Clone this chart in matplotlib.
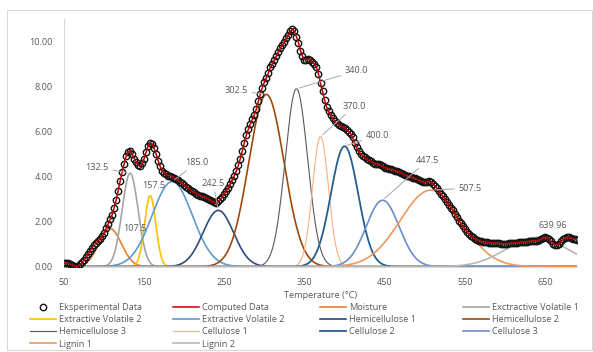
import numpy as np
import matplotlib
matplotlib.use("Agg")
import matplotlib.pyplot as plt
from matplotlib.patches import Rectangle

plt.rcParams["font.family"] = ["Open Sans", "DejaVu Sans"]

# experimental DTG data, every 2.5 degC from 50 to 690 (one row = 25 degC)
temp = np.arange(50, 690.1, 2.5)
exp_vals = [
    0.15, 0.16, 0.15, 0.12, 0.08, 0.03, 0.00, 0.03, 0.10, 0.20,   # 50
    0.30, 0.42, 0.55, 0.70, 0.85, 0.97, 1.05, 1.15, 1.25, 1.35,   # 75
    1.50, 1.70, 1.90, 2.10, 2.30, 2.60, 2.95, 3.35, 3.80, 4.20,   # 100
    4.55, 4.90, 5.10, 5.15, 5.00, 4.80, 4.65, 4.50, 4.45, 4.60,   # 125
    4.80, 5.10, 5.35, 5.50, 5.45, 5.25, 5.00, 4.70, 4.45, 4.25,   # 150
    4.15, 4.10, 4.05, 4.05, 4.00, 3.95, 3.90, 3.85, 3.78, 3.70,   # 175
    3.62, 3.55, 3.48, 3.42, 3.35, 3.30, 3.25, 3.20, 3.15, 3.12,   # 200
    3.10, 3.05, 3.00, 2.95, 2.90, 2.86, 2.85, 2.90, 3.00, 3.10,   # 225
    3.25, 3.38, 3.50, 3.68, 3.85, 4.05, 4.25, 4.50, 4.80, 5.15,   # 250
    5.50, 5.85, 6.10, 6.35, 6.55, 6.75, 7.00, 7.35, 7.65, 7.95,   # 275
    8.20, 8.40, 8.60, 8.85, 9.00, 9.20, 9.35, 9.55, 9.70, 9.85,   # 300
    10.00, 10.15, 10.30, 10.45, 10.55, 10.45, 10.20, 9.95, 9.60, 9.35,  # 325
    9.20, 9.20, 9.22, 9.20, 9.10, 9.00, 8.85, 8.55, 8.15, 7.80,   # 350
    7.40, 7.10, 6.90, 6.72, 6.60, 6.48, 6.38, 6.30, 6.25, 6.20,   # 375
    6.15, 6.08, 6.00, 5.90, 5.75, 5.50, 5.30, 5.12, 5.00, 4.92,   # 400
    4.85, 4.78, 4.72, 4.68, 4.62, 4.58, 4.55, 4.55, 4.50, 4.45,   # 425
    4.40, 4.38, 4.35, 4.32, 4.30, 4.27, 4.25, 4.22, 4.18, 4.12,   # 450
    4.08, 4.05, 4.02, 3.98, 3.95, 3.92, 3.88, 3.84, 3.80, 3.76,   # 475
    3.74, 3.78, 3.80, 3.75, 3.68, 3.60, 3.50, 3.38, 3.25, 3.12,   # 500
    3.00, 2.88, 2.75, 2.62, 2.50, 2.35, 2.20, 2.05, 1.92, 1.80,   # 525
    1.68, 1.55, 1.45, 1.36, 1.30, 1.24, 1.20, 1.16, 1.13, 1.10,   # 550
    1.10, 1.08, 1.07, 1.06, 1.05, 1.05, 1.04, 1.04, 1.03, 1.03,   # 575
    1.02, 1.03, 1.04, 1.05, 1.05, 1.06, 1.07, 1.08, 1.08, 1.09,   # 600
    1.10, 1.11, 1.12, 1.13, 1.14, 1.15, 1.16, 1.18, 1.22, 1.28,   # 625
    1.30, 1.28, 1.22, 1.12, 1.02, 0.98, 0.97, 1.02, 1.12, 1.22,   # 650
    1.28, 1.30, 1.30, 1.27, 1.25, 1.22, 1.20,                     # 675
]
computed_vals = list(exp_vals)

# deconvoluted peaks: name, centre, height, width (sigma)
names = ["Moisture", "Exctractive Volatile 1", "Extractive Volatile 2",
         "Extractive Volatile 2", "Hemicellulose 1", "Hemicellulose 2",
         "Hemicellulose 3", "Cellulose 1", "Cellulose 2", "Cellulose 3",
         "Lignin 1", "Lignin 2"]
centers = [107.5, 132.5, 157.5, 185.0, 242.5, 302.5, 340.0, 370.0, 400.0,
           447.5, 507.5, 639.96]
heights = [1.70, 4.15, 3.15, 3.78, 2.50, 7.65, 7.90, 5.78, 5.35, 2.95, 3.40, 1.30]
sigmas = [14, 10, 7, 25, 19, 22, 14, 10, 17, 20.5, 38, 38]
peak_labels = ["107.5", "132.5", "157.5", "185.0", "242.5", "302.5", "340.0",
               "370.0", "400.0", "447.5", "507.5", "639.96"]

colors = ["#ED7D31", "#A5A5A5", "#FFC000", "#5B9BD5", "#2F4B7C", "#9E480E",
          "#595959", "#F4B183", "#255E91", "#698ED0", "#F1975A", "#B7B7B7"]
widths = [1.2, 1.2, 1.2, 1.2, 1.2, 1.2, 0.8, 0.8, 1.3, 1.2, 1.2, 1.2]
# label offsets from peak (pixels, +y up) and whether a leader line is drawn
offsets = [(25, 0), (-33, 6), (4, 10), (25, 19), (-5, 27), (-30, 4),
           (60, 18), (34, 30), (33, 11), (45, 40), (39, 2), (16, 12)]
leader = [False, True, False, True, True, True, True, True, True, True, True, False]

W, H = 593, 352
fig = plt.figure(figsize=(W / 100, H / 100), dpi=100)
fig.patches.append(Rectangle((7 / W, 1 - 350 / H), 585 / W, 340 / H,
                             transform=fig.transFigure, fill=False,
                             ec="#D9D9D9", lw=0.8))
ax = fig.add_axes([64 / W, 1 - 266.7 / H, 513 / W, 247.7 / H])

grey = "#595959"
tt = np.arange(50, 690.5, 0.5)
handles = []
h_exp, = ax.plot(temp, exp_vals, ls="none", marker="o", ms=4.6, mfc="none",
                 mec="#141414", mew=1.0, zorder=3, label="Eksperimental Data")
h_comp, = ax.plot(temp, computed_vals, color="#C00000", lw=1.1, zorder=4,
                  label="Computed Data")
handles += [h_exp, h_comp]
for i in range(len(names)):
    y = heights[i] * np.exp(-0.5 * ((tt - centers[i]) / sigmas[i]) ** 2)
    h, = ax.plot(tt, y, color=colors[i], lw=widths[i], zorder=2, label=names[i])
    handles.append(h)
    dx, dy = offsets[i]
    ap = dict(arrowstyle="-", color="#A6A6A6", lw=0.7, shrinkA=1, shrinkB=2) \
        if leader[i] else None
    ax.annotate(peak_labels[i], xy=(centers[i], heights[i]),
                xytext=(dx * 0.72, dy * 0.72), textcoords="offset points",
                ha="center", va="center", fontsize=6.6, color=grey,
                arrowprops=ap, zorder=5)

ax.set_xlim(50, 690)
ax.set_ylim(0, 11)
ax.set_xticks(np.arange(50, 651, 100))
ax.set_yticks(np.arange(0, 10.1, 2))
ax.yaxis.set_major_formatter(matplotlib.ticker.FormatStrFormatter("%.2f"))
ax.tick_params(length=0, labelsize=6.6, labelcolor=grey, pad=8)
for s in ["top", "right"]:
    ax.spines[s].set_visible(False)
for s in ["left", "bottom"]:
    ax.spines[s].set_color("#D9D9D9")
    ax.spines[s].set_linewidth(0.8)
ax.set_xlabel("Temperature (°C)", fontsize=6.6, color=grey, labelpad=3)

# Excel fills the legend row by row: one legend per column, placed by hand
legend_cols = [[0, 4, 8, 12], [1, 5, 9, 13], [2, 6, 10], [3, 7, 11]]
col_x = [30, 173, 320, 463]
for idx, x0 in zip(legend_cols, col_x):
    leg = fig.legend([handles[k] for k in idx],
                     [handles[k].get_label() for k in idx],
                     loc="upper left", bbox_to_anchor=(x0 / W, 1 - 303 / H),
                     frameon=False, fontsize=6.6, handlelength=2.8,
                     handletextpad=0.35, labelspacing=0.35,
                     borderpad=0, borderaxespad=0)
    for t in leg.get_texts():
        t.set_color(grey)

fig.savefig("out.png", dpi=100)
